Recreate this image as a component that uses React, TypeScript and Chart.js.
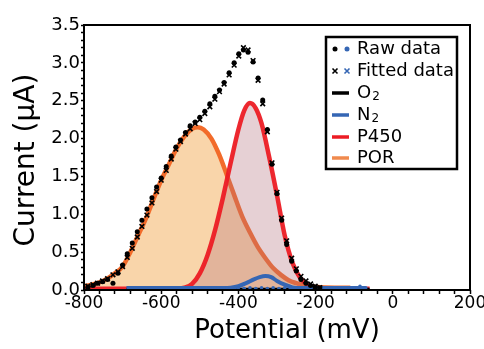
import React, { useEffect, useRef } from "react";
import { Chart, registerables } from "chart.js";

Chart.register(...registerables);

// Measured points (x: potential in mV, y: current in µA)
const rawX = [-790,-777,-765,-752,-739,-725,-712,-700,-688,-675,-662,-650,-637,-624,-612,-600,-587,-574,-562,-550,-537,-525,-512,-500,-487,-474,-461,-449,-437,-424,-411,-399,-387,-375,-362,-349,-337,-325,-313,-300,-288,-275,-262,-250,-238,-225,-213,-201,-189];
const rawY = [0.04,0.06,0.09,0.11,0.14,0.09,0.22,0.33,0.48,0.62,0.77,0.92,1.07,1.22,1.36,1.48,1.63,1.77,1.89,1.98,2.08,2.17,2.22,2.28,2.36,2.46,2.56,2.64,2.74,2.87,3.00,3.12,3.17,3.14,3.01,2.80,2.51,2.12,1.66,1.27,0.92,0.60,0.38,0.25,0.14,0.09,0.06,0.04,0.03];
const fitY = [0.05,0.07,0.09,0.12,0.15,0.20,0.24,0.31,0.43,0.55,0.70,0.84,0.99,1.15,1.30,1.45,1.58,1.73,1.86,1.96,2.06,2.13,2.20,2.25,2.33,2.42,2.52,2.62,2.72,2.84,2.97,3.09,3.20,3.17,3.03,2.77,2.46,2.09,1.68,1.29,0.95,0.65,0.42,0.28,0.18,0.12,0.08,0.05,0.03];

// N2 raw data near baseline
const n2RawX = [-520,-505,-490,-475,-460,-445,-430,-415,-400,-385,-370,-355,-340,-325,-310,-295,-280,-265,-250,-235,-220,-205,-190,-175,-160,-145,-130,-115,-100,-85,-70];
const n2RawY = [0.03,0.02,0.03,0.02,0.03,0.02,0.03,0.02,0.03,0.02,0.03,0.02,0.03,0.02,0.03,0.02,0.03,0.02,0.03,0.02,0.03,0.02,0.03,0.02,0.03,0.02,0.03,0.03,0.03,0.05,0.03];

// Fitted components
const porX = [-800,-780,-760,-740,-720,-700,-680,-660,-640,-620,-600,-580,-560,-540,-520,-505,-490,-470,-450,-430,-410,-390,-370,-350,-330,-310,-290,-270,-250,-230,-200,-150,-110];
const porY = [0.05,0.07,0.10,0.15,0.22,0.31,0.50,0.72,0.94,1.20,1.45,1.66,1.87,2.03,2.13,2.15,2.12,2.00,1.79,1.52,1.24,0.97,0.76,0.57,0.42,0.29,0.20,0.13,0.09,0.06,0.04,0.03,0.03];

const p450X = [-800,-700,-600,-560,-540,-520,-500,-480,-460,-440,-420,-400,-385,-370,-355,-340,-320,-300,-280,-260,-240,-220,-200,-180,-150,-100,-60];
const p450Y = [0.015,0.015,0.015,0.015,0.03,0.08,0.22,0.46,0.80,1.22,1.68,2.12,2.37,2.47,2.40,2.20,1.75,1.25,0.72,0.36,0.16,0.07,0.03,0.02,0.015,0.015,0.015];

const n2X = [-690,-600,-500,-440,-420,-400,-380,-360,-345,-330,-315,-300,-280,-260,-240,-200,-150,-100,-70];
const n2Y = [0.025,0.025,0.025,0.025,0.03,0.05,0.09,0.14,0.17,0.185,0.17,0.12,0.07,0.035,0.025,0.025,0.025,0.025,0.025];

const o2X = [-690,-60];
const o2Y = [0.01,0.01];

const legendLabels = ["Raw data", "Fitted data", "O", "N", "P450", "POR"];
const xTitle = "Potential (mV)";
const yTitle = "Current (\u03bcA)";

const FONT = "'DejaVu Sans', sans-serif";
const BLACK = "#000000";
const BLUE = "#3566b4";
const RED = "#ec1c24";
const ORANGE = "#f26b2a";
const LEG_ORANGE = "#f08a4e";

const pts = (xs: number[], ys: number[]) => xs.map((x, i) => ({ x, y: ys[i] }));

const framePlugin = {
  id: "frame",
  afterDraw(chart: any) {
    const { ctx, chartArea: a } = chart;
    ctx.save();
    ctx.strokeStyle = "#000";
    ctx.lineWidth = 2;
    ctx.strokeRect(a.left, a.top, a.right - a.left, a.bottom - a.top);
    ctx.fillStyle = "#000";
    ctx.textAlign = "center";
    ctx.textBaseline = "middle";
    ctx.font = `26px ${FONT}`;
    ctx.fillText(xTitle, 287, 331);
    ctx.translate(27, 160);
    ctx.rotate(-Math.PI / 2);
    ctx.font = `28px ${FONT}`;
    ctx.fillText(yTitle, 0, 0);
    ctx.restore();
  },
};

const legendPlugin = {
  id: "customLegend",
  afterDraw(chart: any) {
    const ctx = chart.ctx;
    ctx.save();
    const bx = 326, by = 37, bw = 131, bh = 132;
    ctx.fillStyle = "#fff";
    ctx.fillRect(bx, by, bw, bh);
    ctx.strokeStyle = "#000";
    ctx.lineWidth = 2.5;
    ctx.strokeRect(bx, by, bw, bh);
    const rowY = [49, 71, 93, 115, 137, 158];
    const tx = 357;
    ctx.textBaseline = "middle";
    ctx.textAlign = "left";
    const dot = (x: number, y: number, c: string) => {
      ctx.fillStyle = c;
      ctx.beginPath();
      ctx.arc(x, y, 2.5, 0, Math.PI * 2);
      ctx.fill();
    };
    dot(335, rowY[0], BLACK);
    dot(347, rowY[0], BLUE);
    const cross = (x: number, y: number, c: string) => {
      ctx.strokeStyle = c;
      ctx.lineWidth = 1.6;
      ctx.beginPath();
      ctx.moveTo(x - 2.5, y - 2.5);
      ctx.lineTo(x + 2.5, y + 2.5);
      ctx.moveTo(x + 2.5, y - 2.5);
      ctx.lineTo(x - 2.5, y + 2.5);
      ctx.stroke();
    };
    cross(335, rowY[1], BLACK);
    cross(347, rowY[1], BLUE);
    const colors = [BLACK, BLUE, RED, LEG_ORANGE];
    for (let i = 0; i < 4; i++) {
      ctx.strokeStyle = colors[i];
      ctx.lineWidth = 3.5;
      ctx.beginPath();
      ctx.moveTo(332, rowY[i + 2]);
      ctx.lineTo(349, rowY[i + 2]);
      ctx.stroke();
    }
    ctx.fillStyle = "#000";
    ctx.font = `18px ${FONT}`;
    for (let i = 0; i < 6; i++) {
      ctx.fillText(legendLabels[i], tx, rowY[i]);
      if (i === 2 || i === 3) {
        const w = ctx.measureText(legendLabels[i]).width;
        ctx.font = `12px ${FONT}`;
        ctx.fillText("2", tx + w + 1, rowY[i] + 4);
        ctx.font = `18px ${FONT}`;
      }
    }
    ctx.restore();
  },
};

export default function App() {
  const ref = useRef<HTMLCanvasElement | null>(null);
  useEffect(() => {
    document.body.style.margin = "0";
    const canvas = ref.current!;
    const chart = new Chart(canvas, {
      type: "scatter",
      data: {
        datasets: [
          {
            label: "Raw data",
            data: pts(rawX, rawY),
            pointStyle: "circle",
            pointRadius: 2.5,
            pointBackgroundColor: BLACK,
            pointBorderWidth: 0,
            showLine: false,
          },
          {
            label: "Fitted data",
            data: pts(rawX, fitY),
            pointStyle: "crossRot",
            pointRadius: 3.3,
            pointBorderColor: BLACK,
            pointBorderWidth: 1.6,
            showLine: false,
          },
          {
            label: "N2 raw",
            data: pts(n2RawX, n2RawY),
            pointStyle: "circle",
            pointRadius: 1.8,
            pointBackgroundColor: BLUE,
            pointBorderWidth: 0,
            showLine: false,
          },
          {
            label: "N2",
            data: pts(n2X, n2Y),
            showLine: true,
            borderColor: BLUE,
            borderWidth: 4,
            pointRadius: 0,
            cubicInterpolationMode: "monotone",
          },
          {
            label: "O2",
            data: pts(o2X, o2Y),
            showLine: true,
            borderColor: BLACK,
            borderWidth: 3,
            pointRadius: 0,
          },
          {
            label: "P450",
            data: pts(p450X, p450Y),
            showLine: true,
            borderColor: "rgba(236,28,36,0.95)",
            borderWidth: 4.5,
            pointRadius: 0,
            cubicInterpolationMode: "monotone",
            fill: "origin",
            backgroundColor: "rgba(180,112,125,0.33)",
          },
          {
            label: "POR",
            data: pts(porX, porY),
            showLine: true,
            borderColor: ORANGE,
            borderWidth: 4.5,
            pointRadius: 0,
            cubicInterpolationMode: "monotone",
            fill: "origin",
            backgroundColor: "#f9d5aa",
          },
        ],
      },
      options: {
        responsive: false,
        animation: false,
        devicePixelRatio: 1,
        layout: { padding: { top: 25, right: 14, left: 0, bottom: 0 } },
        plugins: {
          legend: { display: false },
          tooltip: { enabled: false },
        },
        scales: {
          x: {
            type: "linear",
            min: -800,
            max: 200,
            afterFit: (s: any) => { s.height = 59; s.paddingRight = 0; s.paddingLeft = 0; },
            border: { display: false },
            grid: {
              drawOnChartArea: false,
              drawTicks: true,
              tickLength: 4,
              tickColor: "#000",
              tickWidth: 1.5,
            },
            ticks: {
              stepSize: 40,
              autoSkip: false,
              maxRotation: 0,
              padding: -1,
              color: "#000",
              font: { family: FONT, size: 17 },
              callback: (v: any) => (Math.round(v) % 200 === 0 ? String(Math.round(v)) : ""),
            },
            title: { display: false },
          },
          y: {
            type: "linear",
            min: 0,
            max: 3.5,
            afterFit: (s: any) => { s.width = 84; s.paddingTop = 0; s.paddingBottom = 0; },
            border: { display: false },
            grid: {
              drawOnChartArea: false,
              drawTicks: true,
              tickLength: 3,
              tickColor: "#000",
              tickWidth: 1.5,
            },
            ticks: {
              stepSize: 0.1,
              autoSkip: false,
              padding: 1,
              color: "#000",
              font: { family: FONT, size: 18 },
              callback: (v: any) => {
                const t = Math.round(v * 10);
                return t % 5 === 0 ? (t / 10).toFixed(1) : "";
              },
            },
            title: { display: false },
          },
        },
      },
      plugins: [framePlugin, legendPlugin],
    } as any);
    return () => chart.destroy();
  }, []);
  return <canvas ref={ref} width={484} height={349} style={{ display: "block", width: 484, height: 349 }} />;
}
